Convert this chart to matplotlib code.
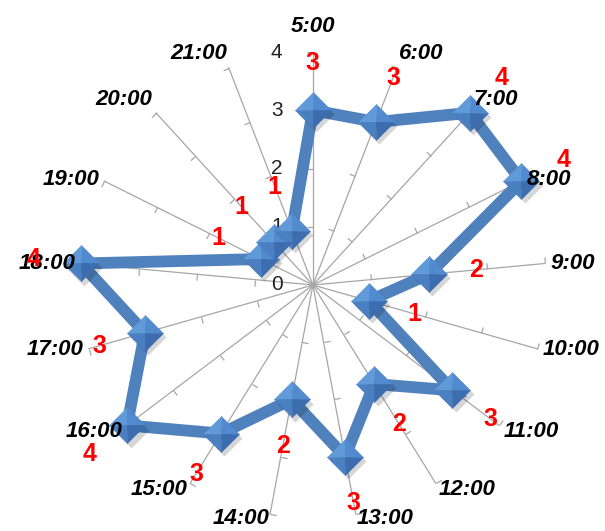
import numpy as np
import matplotlib.pyplot as plt
from matplotlib.path import Path
from matplotlib.markers import MarkerStyle
from matplotlib.transforms import Affine2D, IdentityTransform, offset_copy

# hourly counts
hours = ['5:00', '6:00', '7:00', '8:00', '9:00', '10:00', '11:00', '12:00', '13:00',
         '14:00', '15:00', '16:00', '17:00', '18:00', '19:00', '20:00', '21:00']
counts = [3, 3, 4, 4, 2, 1, 3, 2, 3, 2, 3, 4, 3, 4, 1, 1, 1]
rings = [0, 1, 2, 3, 4]

angles = np.linspace(0, 2 * np.pi, len(hours), endpoint=False)

fig = plt.figure(figsize=(6.05, 5.31), dpi=100)
ax = fig.add_axes([0.1322, 0.0245, 0.770, 0.8776], projection='polar')
ax.set_theta_zero_location('N')
ax.set_theta_direction(-1)
ax.set_ylim(0, 4)
ax.grid(False)
ax.spines['polar'].set_visible(False)
ax.set_xticks([])
ax.set_yticks([])

spoke_col = '#a6a6a6'
tick_path = Path([(0, 0), (0, 1)])
for a in angles:
    ax.plot([a, a], [0, rings[-1]], color=spoke_col, lw=0.9, zorder=1, clip_on=False)
    # small tick marks on the ccw side of each spoke
    m = MarkerStyle(tick_path, transform=Affine2D().rotate_deg(90 - np.degrees(a)))
    ax.plot([a] * 4, rings[1:], ls='none', marker=m, ms=9, mfc='none',
            mec=spoke_col, mew=0.9, zorder=1, clip_on=False)

# value scale on the first spoke
for r in rings:
    ax.annotate(str(r), xy=(0, r), xytext=(-26, 0), textcoords='offset points',
                ha='center', va='center', fontsize=15, color='#222222',
                family='Liberation Sans', zorder=2)

# the line itself (closed); points go through the polar transform first so
# neighbouring points on the same ring are joined straight, not by an arc
a_closed = np.append(angles, angles[0])
c_closed = counts + counts[:1]
pts = ax.transData.transform(np.column_stack([a_closed, c_closed]))
ax.plot(pts[:, 0], pts[:, 1], transform=IdentityTransform(), color='#4f81bd', lw=8.5,
        solid_joinstyle='miter', zorder=3, clip_on=False)

# pyramid-shaded diamond markers with a soft shadow
shadow_tr = offset_copy(ax.transData, fig=fig, x=2.5, y=-3, units='points')
ax.plot(angles, counts, ls='none', marker='D', ms=18, mfc='#000000', mec='none',
        alpha=0.16, transform=shadow_tr, zorder=4, clip_on=False)
faces = [
    ([(0, 0), (-1, 0), (0, 1)], '#619ad9'),
    ([(0, 0), (0, 1), (1, 0)], '#528acf'),
    ([(0, 0), (-1, 0), (0, -1)], '#4a7fc2'),
    ([(0, 0), (0, -1), (1, 0)], '#3b6daf'),
]
for verts, col in faces:
    ax.plot(angles, counts, ls='none', marker=Path(verts + [verts[0]]), ms=26,
            mfc=col, mec=col, mew=0.3, zorder=5, clip_on=False)

# hour labels outside the spokes
for a, h in zip(angles, hours):
    s, c = np.sin(a), np.cos(a)
    ha = 'left' if s > 0.1 else ('right' if s < -0.1 else 'center')
    if c > 0.6:
        va, dy = 'bottom', 3 * c + (8 if c > 0.95 else 0)
    elif -0.9 < c < -0.5:
        va, dy = 'top', 3
    else:
        va, dy = 'center', 3 * c
    ax.annotate(h, xy=(a, rings[-1]), xytext=(4 * s, dy), textcoords='offset points',
                ha=ha, va=va, fontsize=16, fontweight='bold', fontstyle='italic',
                family='Liberation Sans', color='black', zorder=6)

# value labels
for a, v in zip(angles, counts):
    ax.annotate(str(v), xy=(a, v), xytext=(34 * np.sin(a), 34 * np.cos(a)),
                textcoords='offset points', ha='center', va='center',
                fontsize=18, fontweight='bold', color='red',
                family='Liberation Sans', zorder=7)

fig.savefig('out.png', dpi=100)
